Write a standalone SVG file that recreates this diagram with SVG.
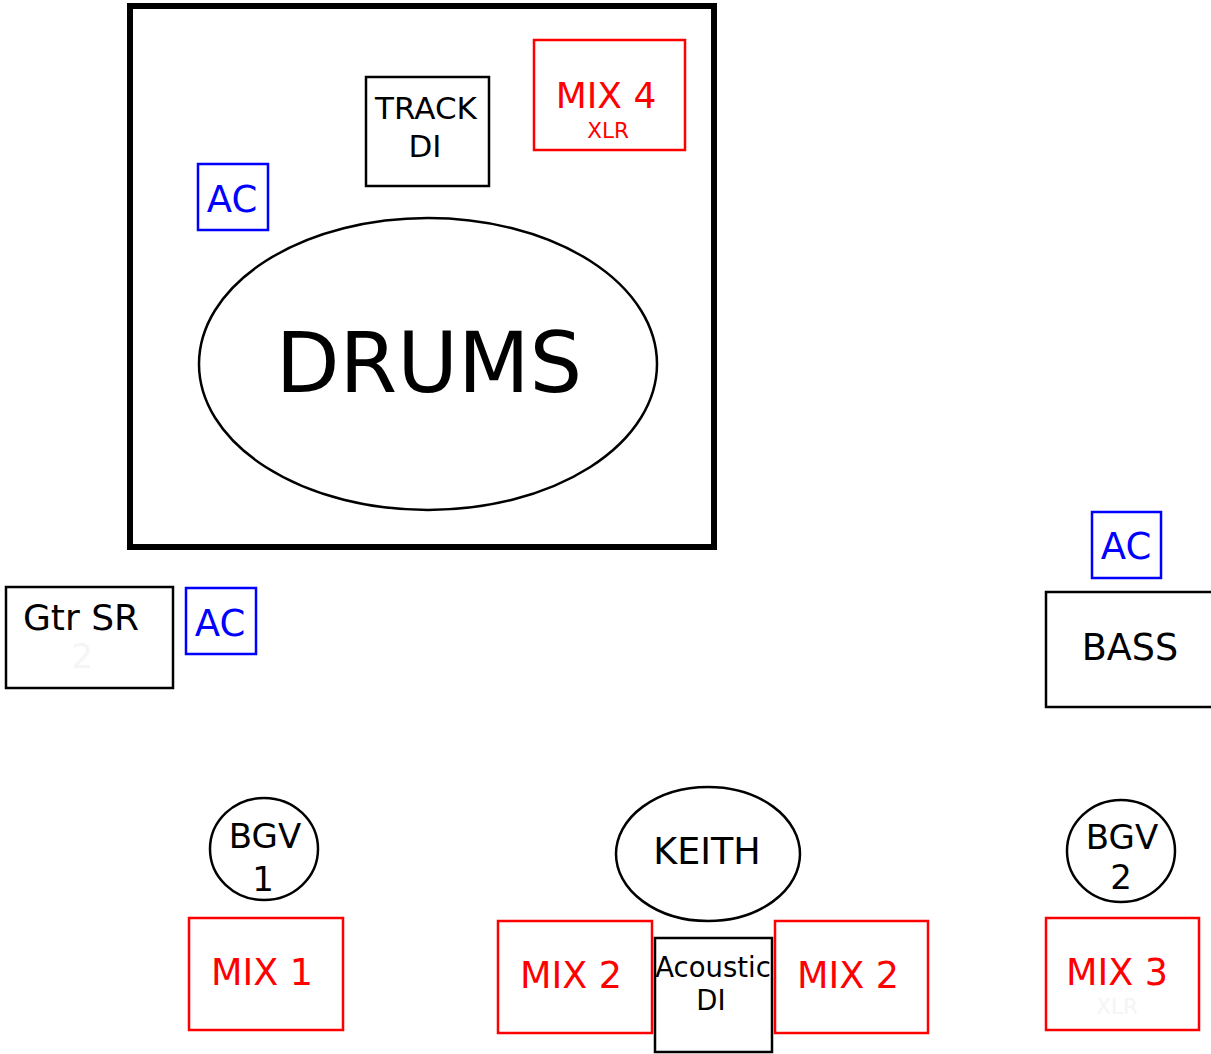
<svg xmlns="http://www.w3.org/2000/svg" width="1211" height="1054" viewBox="0 0 1211 1054">
<style>
text{font-family:"DejaVu Sans",Verdana,sans-serif;text-anchor:middle}
.k{fill:none;stroke:#000;stroke-width:2.5}
.r{fill:none;stroke:#ff0000;stroke-width:2.5}
.b{fill:none;stroke:#0000ff;stroke-width:2.5}
.tk{fill:#000}
.tr{fill:#ff0000}
.tb{fill:#0000ff}
.faint{fill:#f5f5f5}
</style>
<rect width="1211" height="1054" fill="#fff"/>
<g id="drum-riser"><rect x="130" y="6" width="584" height="541" fill="none" stroke="#000" stroke-width="6"/></g>
<g id="track-di"><rect class="k" x="366" y="77" width="123" height="109"/><text class="tk" x="426" y="119" font-size="31">TRACK</text><text class="tk" x="425" y="157" font-size="31">DI</text></g>
<g id="mix4"><rect class="r" x="534" y="40" width="151" height="110"/><text class="tr" x="606" y="108" font-size="36">MIX 4</text><text class="tr" x="608" y="138" font-size="21.5">XLR</text></g>
<g id="ac-drums"><rect class="b" x="198" y="164" width="70" height="66"/><text class="tb" x="232" y="212" font-size="37">AC</text></g>
<g id="drums"><ellipse class="k" cx="428" cy="364" rx="229" ry="146"/><text class="tk" x="429" y="392" font-size="83">DRUMS</text></g>
<g id="gtr-sr"><rect class="k" x="6" y="587" width="167" height="101"/><text class="tk" x="81" y="630" font-size="36">Gtr SR</text><text class="faint" x="82" y="668" font-size="34">2</text></g>
<g id="ac-gtr"><rect class="b" x="186" y="588" width="70" height="66"/><text class="tb" x="220" y="636" font-size="37">AC</text></g>
<g id="ac-bass"><rect class="b" x="1092" y="512" width="69" height="66"/><text class="tb" x="1126" y="559" font-size="37">AC</text></g>
<g id="bass"><rect class="k" x="1046" y="592" width="170" height="115"/><text class="tk" x="1130" y="660" font-size="36.5">BASS</text></g>
<g id="bgv1"><ellipse class="k" cx="264" cy="849" rx="54" ry="51"/><text class="tk" x="265" y="848" font-size="34">BGV</text><text class="tk" x="263" y="891" font-size="34">1</text></g>
<g id="mix1"><rect class="r" x="189" y="918" width="154" height="112"/><text class="tr" x="262" y="985" font-size="36.5">MIX 1</text></g>
<g id="keith"><ellipse class="k" cx="708" cy="854" rx="92" ry="67"/><text class="tk" x="707" y="864" font-size="36.5">KEITH</text></g>
<g id="mix2-left"><rect class="r" x="498" y="921" width="154" height="112"/><text class="tr" x="571" y="988" font-size="36.5">MIX 2</text></g>
<g id="acoustic-di"><rect class="k" x="655" y="938" width="117" height="114"/><text class="tk" x="713" y="977" font-size="27.5">Acoustic</text><text class="tk" x="711" y="1010" font-size="27.5">DI</text></g>
<g id="mix2-right"><rect class="r" x="775" y="921" width="153" height="112"/><text class="tr" x="848" y="988" font-size="36.5">MIX 2</text></g>
<g id="bgv2"><ellipse class="k" cx="1121" cy="851" rx="54" ry="51"/><text class="tk" x="1122" y="849" font-size="34">BGV</text><text class="tk" x="1121" y="889" font-size="34">2</text></g>
<g id="mix3"><rect class="r" x="1046" y="918" width="153" height="112"/><text class="tr" x="1117" y="985" font-size="36.5">MIX 3</text><text class="faint" x="1117" y="1014" font-size="21.5">XLR</text></g>
<g id="connectors"></g>
</svg>
